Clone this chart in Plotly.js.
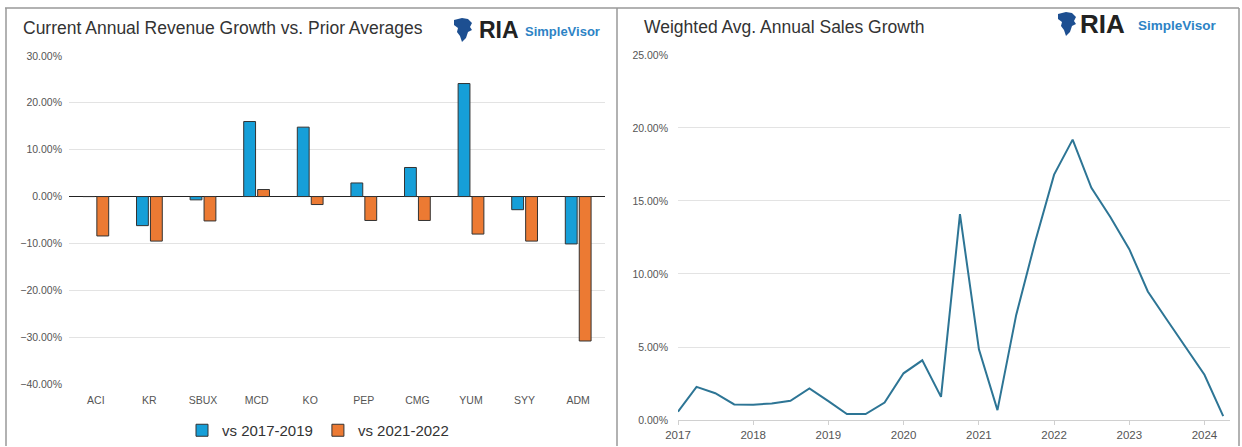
<html lang="en">
  <head>
    <meta charset="UTF-8" />
    <title>Revenue and Sales Growth</title>
    <script src="https://cdn.plot.ly/plotly-3.0.1.min.js"></script>
    <style>
      body { margin: 0; background: #fff; }
      #chart { width: 1242px; height: 447px; }
    </style>
  </head>
  <body>
    <div id="chart"></div>
    <script>
      // left panel: revenue growth vs prior averages (%)
      const tickers = ['ACI', 'KR', 'SBUX', 'MCD', 'KO', 'PEP', 'CMG', 'YUM', 'SYY', 'ADM'];
      const vs2017to2019 = [0, -6.2, -0.7, 16.0, 14.8, 2.9, 6.2, 24.1, -2.8, -10.1];
      const vs2021to2022 = [-8.4, -9.5, -5.2, 1.5, -1.7, -5.1, -5.1, -8.0, -9.5, -30.8];

      // right panel: weighted avg annual sales growth (%), quarterly
      const quarters = [
        '2017-01-01', '2017-04-01', '2017-07-01', '2017-10-01',
        '2018-01-01', '2018-04-01', '2018-07-01', '2018-10-01',
        '2019-01-01', '2019-04-01', '2019-07-01', '2019-10-01',
        '2020-01-01', '2020-04-01', '2020-07-01', '2020-10-01',
        '2021-01-01', '2021-04-01', '2021-07-01', '2021-10-01',
        '2022-01-01', '2022-04-01', '2022-07-01', '2022-10-01',
        '2023-01-01', '2023-04-01', '2023-07-01', '2023-10-01',
        '2024-01-01', '2024-04-01'
      ];
      const salesGrowth = [
        0.57, 2.27, 1.84, 1.07, 1.05, 1.14, 1.32, 2.16, 1.3, 0.41,
        0.41, 1.2, 3.2, 4.09, 1.59, 14.1, 4.84, 0.68, 7.2, 12.2,
        16.8, 19.2, 15.9, 13.9, 11.7, 8.8, 6.9, 5.0, 3.1, 0.27
      ];

      const W = 1242, H = 447;
      const px = x => x / W;
      const py = y => 1 - y / H;

      const tickFont = { family: 'Liberation Sans, Arial, sans-serif', size: 10.5, color: '#555' };

      const traces = [
        {
          type: 'bar', x: tickers, y: vs2017to2019, name: 'vs 2017-2019',
          xaxis: 'x', yaxis: 'y',
          marker: { color: '#169fd8', line: { color: '#333', width: 1 } }
        },
        {
          type: 'bar', x: tickers, y: vs2021to2022, name: 'vs 2021-2022',
          xaxis: 'x', yaxis: 'y',
          marker: { color: '#ec7a33', line: { color: '#333', width: 1 } }
        },
        {
          type: 'scatter', mode: 'lines', x: quarters, y: salesGrowth,
          xaxis: 'x2', yaxis: 'y2', showlegend: false,
          line: { color: '#2d7595', width: 2 }
        }
      ];

      // small lion-ish mark next to "RIA"
      function logoIcon(x0, y0) {
        const pts = [[0, 2], [8, 0], [14, 1], [18, 5], [16, 9], [18, 12], [14, 14],
                     [12, 20], [8, 24], [6, 18], [3, 14], [4, 10], [0, 7]];
        let d = '';
        pts.forEach((p, i) => {
          d += (i === 0 ? 'M' : 'L') + px(x0 + p[0]).toFixed(5) + ',' + py(y0 + p[1]).toFixed(5) + ' ';
        });
        return { type: 'path', xref: 'paper', yref: 'paper', path: d + 'Z',
                 fillcolor: '#1d4f91', line: { width: 0 } };
      }

      const borderLine = { color: '#999', width: 1.5 };
      const shapes = [
        { type: 'line', xref: 'paper', yref: 'paper', x0: px(5), x1: px(1239), y0: py(8), y1: py(8), line: borderLine },
        { type: 'line', xref: 'paper', yref: 'paper', x0: px(6), x1: px(6), y0: py(8), y1: 0, line: borderLine },
        { type: 'line', xref: 'paper', yref: 'paper', x0: px(617), x1: px(617), y0: py(8), y1: 0, line: borderLine },
        { type: 'line', xref: 'paper', yref: 'paper', x0: px(1239), x1: px(1239), y0: py(8), y1: 0, line: borderLine },
        logoIcon(454, 18),
        logoIcon(1058, 12)
      ];

      const titleFont = { family: 'Liberation Sans, Arial, sans-serif', size: 17.5, color: '#333' };
      const svFont = { family: 'Liberation Sans, Arial, sans-serif', size: 13, color: '#2d83c5' };
      function note(text, x, y, font) {
        return { text: text, xref: 'paper', yref: 'paper', x: px(x), y: py(y),
                 xanchor: 'left', yanchor: 'middle', showarrow: false, font: font };
      }
      const annotations = [
        note('Current Annual Revenue Growth vs. Prior Averages', 21, 28, titleFont),
        note('Weighted Avg. Annual Sales Growth', 642, 27, titleFont),
        note('<b>RIA</b>', 477, 30, { family: 'Liberation Sans, Arial, sans-serif', size: 23, color: '#222' }),
        note('<b>SimpleVisor</b>', 523, 32, svFont),
        note('<b>RIA</b>', 1078, 24, { family: 'Liberation Sans, Arial, sans-serif', size: 26, color: '#222' }),
        note('<b>SimpleVisor</b>', 1136, 26, { family: 'Liberation Sans, Arial, sans-serif', size: 13.5, color: '#2d83c5' })
      ];

      const layout = {
        width: W, height: H,
        margin: { l: 0, r: 0, t: 0, b: 0 },
        paper_bgcolor: '#fff', plot_bgcolor: '#fff',
        barmode: 'group', bargap: 0.48, bargroupgap: 0.15,
        showlegend: true,
        legend: {
          orientation: 'h', x: px(318), xanchor: 'center', y: py(431), yanchor: 'middle',
          font: { family: 'Liberation Sans, Arial, sans-serif', size: 15, color: '#333' },
          itemwidth: 30
        },
        xaxis: {
          domain: [px(69), px(605)], anchor: 'y',
          showgrid: false, showline: false, ticks: '', zeroline: false,
          tickfont: tickFont, ticklabelstandoff: 8
        },
        yaxis: {
          domain: [py(385), py(56)], anchor: 'x',
          range: [-40, 30], dtick: 10, tickformat: '.2f', ticksuffix: '%',
          showgrid: true, gridcolor: '#e3e3e3', gridwidth: 1,
          zeroline: true, zerolinecolor: '#222', zerolinewidth: 1.5,
          showline: false, ticks: '', tickfont: tickFont, ticklabelstandoff: 6
        },
        xaxis2: {
          domain: [px(678), px(1230)], anchor: 'y2', type: 'date',
          range: ['2017-01-01', '2024-05-04'],
          tick0: '2017-01-01', dtick: 'M12', tickformat: '%Y',
          showgrid: false, showline: true, linecolor: '#d0d0d0', linewidth: 1,
          ticks: 'outside', ticklen: 4, tickcolor: '#d0d0d0',
          tickfont: { family: 'Liberation Sans, Arial, sans-serif', size: 11.5, color: '#555' }
        },
        yaxis2: {
          domain: [py(421), py(55)], anchor: 'x2',
          range: [0, 25], dtick: 5, tickformat: '.2f', ticksuffix: '%',
          showgrid: true, gridcolor: '#e3e3e3', gridwidth: 1,
          zeroline: false, showline: false, ticks: '',
          tickfont: tickFont, ticklabelstandoff: 9
        },
        shapes: shapes,
        annotations: annotations
      };

      Plotly.newPlot('chart', traces, layout, { staticPlot: true, displayModeBar: false });
    </script>
  </body>
</html>
